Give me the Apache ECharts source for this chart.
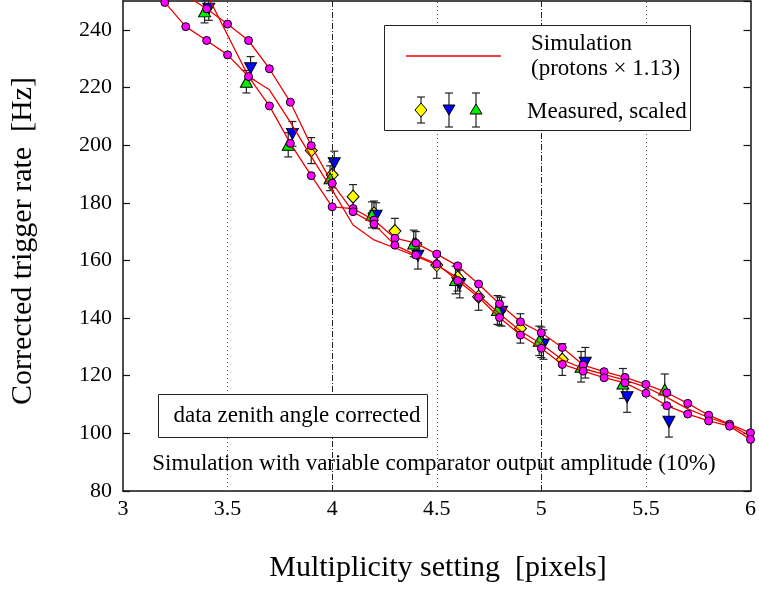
<!DOCTYPE html>
<html>
<head>
<meta charset="utf-8">
<script src="https://cdn.jsdelivr.net/npm/echarts@6/dist/echarts.min.js"></script>
<style>html,body{margin:0;padding:0;background:#fff}#c{width:759px;height:592px}</style>
</head>
<body>
<div id="c"></div>
<script>
// ---------------- data ----------------
const xTicks = [3, 3.5, 4, 4.5, 5, 5.5, 6];
const dottedGrid = [3.5, 4.5, 5.5];
const dashDotGrid = [4, 5];

// measured, scaled (yellow diamonds)
const yelX = [3.9, 4.0, 4.1, 4.2, 4.3, 4.4, 4.5, 4.6, 4.7, 4.8, 4.9, 5.0, 5.1];
const yelY = [198.1, 189.7, 182.1, 176.3, 170.2, 165.5, 158.4, 154.1, 147.4, 142.4, 136.4, 131.6, 125.6];
const yelE = [4.5, 4.5, 4.2, 4.3, 4.4, 4.5, 4.6, 4.7, 4.7, 4.9, 5.1, 5.3, 5.5];

// measured, scaled (blue down-triangles)
const bluX = [3.41, 3.61, 3.81, 4.01, 4.21, 4.41, 4.61, 4.81, 5.01, 5.21, 5.41, 5.61];
const bluY = [247.3, 226.7, 203.9, 193.7, 175.5, 161.6, 151.8, 142.2, 130.8, 124.5, 112.5, 104.0];
const bluE = [4.0, 4.0, 4.3, 4.2, 4.5, 4.6, 4.8, 5.0, 5.1, 5.3, 5.2, 5.3];

// measured, scaled (green up-triangles)
const grnX = [3.39, 3.59, 3.79, 3.99, 4.19, 4.39, 4.59, 4.79, 4.99, 5.19, 5.39, 5.59];
const grnY = [246.4, 222.0, 200.1, 188.5, 175.8, 165.9, 153.2, 142.8, 132.1, 123.1, 117.3, 115.2];
const grnE = [4.0, 3.9, 4.2, 4.3, 4.5, 4.6, 4.8, 5.0, 5.1, 5.3, 5.2, 5.4];

// simulation with variable comparator output amplitude (dots)
const simAX = [3.2, 3.3, 3.4, 3.5, 3.6, 3.7, 3.8, 3.9, 4.0, 4.1, 4.2, 4.3, 4.4, 4.5, 4.6, 4.7, 4.8, 4.9, 5.0, 5.1, 5.2, 5.3, 5.4, 5.5, 5.6, 5.7, 5.8, 5.9, 6.0];
const simAY = [249.5, 241.1, 236.3, 231.3, 223.8, 213.6, 200.6, 189.4, 178.6, 178.0, 174.0, 167.7, 166.0, 162.2, 158.1, 151.8, 144.9, 138.7, 134.9, 129.8, 123.7, 121.4, 119.4, 117.0, 114.1, 110.4, 106.3, 103.2, 100.2];
const simBX = [3.3, 3.4, 3.5, 3.6, 3.7, 3.8, 3.9, 4.0, 4.1, 4.2, 4.3, 4.4, 4.5, 4.6, 4.7, 4.8, 4.9, 5.0, 5.1, 5.2, 5.3, 5.4, 5.5, 5.6, 5.7, 5.8, 5.9, 6.0];
const simBY = [252.0, 247.3, 242.0, 236.3, 226.5, 214.9, 199.8, 186.8, 176.9, 172.6, 165.3, 161.9, 158.75, 153.0, 147.2, 140.2, 134.1, 129.5, 123.9, 121.6, 119.3, 117.5, 113.9, 109.6, 106.7, 104.3, 102.5, 97.9];
// simulation (protons x 1.13), line only
const simCX = [3.4, 3.6, 3.7, 3.8, 3.9, 4.0, 4.1, 4.2, 4.3, 4.4, 4.5, 4.6, 4.7, 4.8, 4.9, 5.0, 5.1, 5.2, 5.3, 5.4, 5.5, 5.6, 5.7, 5.8, 5.9, 6.0];
const simCY = [252.5, 223.8, 219.2, 208.0, 196.0, 184.5, 172.3, 167.1, 164.3, 161.5, 158.4, 154.0, 148.0, 141.5, 135.5, 131.0, 125.5, 122.5, 120.5, 118.5, 116.0, 112.5, 108.5, 105.5, 103.0, 99.0];

// ---------------- helpers ----------------
const zip = (xs, ys) => xs.map((x, i) => [x, ys[i]]);
const zip3 = (xs, ys, es) => xs.map((x, i) => [x, ys[i], es[i]]);
const FAM = '"Liberation Serif", "Times New Roman", serif';
const FONT = '"Liberation Serif", serif';

function errSeries(xs, ys, es) {
  return {
    type: 'custom',
    data: zip3(xs, ys, es),
    z: 3,
    renderItem: function (params, api) {
      const x = api.value(0), y = api.value(1), e = api.value(2);
      const hi = api.coord([x, y + e]);
      const lo = api.coord([x, y - e]);
      const cap = 4;
      const st = { stroke: '#222', lineWidth: 1.2 };
      return {
        type: 'group',
        children: [
          { type: 'line', shape: { x1: hi[0], y1: hi[1], x2: lo[0], y2: lo[1] }, style: st },
          { type: 'line', shape: { x1: hi[0] - cap, y1: hi[1], x2: hi[0] + cap, y2: hi[1] }, style: st },
          { type: 'line', shape: { x1: lo[0] - cap, y1: lo[1], x2: lo[0] + cap, y2: lo[1] }, style: st }
        ]
      };
    }
  };
}

function markerSeries(xs, ys, symbol, size, color, rotate) {
  return {
    type: 'scatter',
    data: zip(xs, ys),
    symbol: symbol,
    symbolSize: size,
    symbolRotate: rotate || 0,
    z: 4,
    itemStyle: { color: color, borderColor: '#000', borderWidth: 1, opacity: 1 }
  };
}

function simSeries(xs, ys, dots) {
  return {
    type: 'line',
    data: zip(xs, ys),
    z: 5,
    clip: true,
    showSymbol: dots,
    symbol: 'circle',
    symbolSize: 8,
    itemStyle: { color: '#ff00ff', borderColor: '#000', borderWidth: 1 },
    lineStyle: { color: '#ee0000', width: 1.3 },
    emphasis: { disabled: true },
    animation: false
  };
}

const gridLines = dottedGrid.map(v => ({ xAxis: v, lineStyle: { type: [1, 3], color: '#555', width: 1 } }))
  .concat(dashDotGrid.map(v => ({ xAxis: v, lineStyle: { type: [6, 2, 1, 2], color: '#222', width: 1 } })));

const axisLine = { show: true, onZero: false, lineStyle: { color: '#111', width: 1.5 } };
const tickLabel = { color: '#000', fontFamily: FAM, fontSize: 22, fontWeight: 'normal' };

// legend icon builder (graphic, not data marks)
function legendIcon(cx, top, bottom, poly, color) {
  const st = { stroke: '#222', lineWidth: 1.2 };
  return [
    { type: 'line', z: 12, shape: { x1: cx, y1: top, x2: cx, y2: bottom }, style: st },
    { type: 'line', z: 12, shape: { x1: cx - 4, y1: top, x2: cx + 4, y2: top }, style: st },
    { type: 'line', z: 12, shape: { x1: cx - 4, y1: bottom, x2: cx + 4, y2: bottom }, style: st },
    { type: 'polygon', z: 13, shape: { points: poly }, style: { fill: color, stroke: '#000', lineWidth: 1 } }
  ];
}

const chart = echarts.init(document.getElementById('c'), null, { renderer: 'canvas' });
chart.setOption({
  animation: false,
  backgroundColor: '#fff',
  textStyle: { fontFamily: FAM, fontSize: 22, color: '#000' },
  grid: { left: 123, right: 6, top: 1, bottom: 101, containLabel: false },
  xAxis: [
    {
      type: 'value', min: 3, max: 6, interval: 0.5, position: 'bottom',
      axisLine: axisLine, axisTick: { show: false }, splitLine: { show: false },
      axisLabel: Object.assign({}, tickLabel, { margin: 7, lineHeight: 22,
        formatter: v => (xTicks.indexOf(v) >= 0 ? String(v) : '') })
    },
    {
      type: 'value', min: 3, max: 6, interval: 0.5, position: 'top',
      axisLine: axisLine, axisTick: { show: false }, splitLine: { show: false }, axisLabel: { show: false }
    }
  ],
  yAxis: [
    {
      type: 'value', min: 80, max: 250, interval: 20, position: 'left',
      axisLine: axisLine,
      axisTick: { show: true, inside: true, length: 7, lineStyle: { color: '#111', width: 1.2 } },
      splitLine: { show: false },
      axisLabel: Object.assign({}, tickLabel, { margin: 11, showMaxLabel: false })
    },
    {
      type: 'value', min: 80, max: 250, interval: 20, position: 'right',
      axisLine: axisLine,
      axisTick: { show: true, inside: true, length: 7, lineStyle: { color: '#111', width: 1.2 } },
      splitLine: { show: false }, axisLabel: { show: false }
    }
  ],
  series: [
    {
      type: 'line', data: [], z: 1, silent: true,
      markLine: { silent: true, symbol: ['none', 'none'], label: { show: false }, data: gridLines, animation: false }
    },
    errSeries(yelX, yelY, yelE),
    errSeries(bluX, bluY, bluE),
    errSeries(grnX, grnY, grnE),
    markerSeries(yelX, yelY, 'diamond', [12, 13], '#ffff00'),
    markerSeries(bluX, bluY, 'triangle', [12, 11], '#0000ff', 180),
    markerSeries(grnX, grnY, 'triangle', [12, 11], '#00ee00'),
    simSeries(simCX, simCY, false),
    simSeries(simAX, simAY, true),
    simSeries(simBX, simBY, true)
  ],
  graphic: [
    // axis titles
    { type: 'text', x: 23, y: 241, rotation: Math.PI / 2,
      style: { text: 'Corrected trigger rate  [Hz]', font: '30px ' + FONT, fill: '#000', align: 'center', verticalAlign: 'middle' } },
    { type: 'text', x: 438, y: 568,
      style: { text: 'Multiplicity setting  [pixels]', font: '30px ' + FONT, fill: '#000', align: 'center', verticalAlign: 'middle' } },
    // annotation box
    { type: 'rect', shape: { x: 158.5, y: 394.5, width: 269, height: 43 }, style: { fill: '#fff', stroke: '#222', lineWidth: 1 }, z: 10 },
    { type: 'text', x: 297, y: 415.5, z: 11,
      style: { text: 'data zenith angle corrected', font: '23px ' + FONT, fill: '#000', align: 'center', verticalAlign: 'middle' } },
    { type: 'text', x: 434, y: 464, z: 11,
      style: { text: 'Simulation with variable comparator output amplitude (10%)', font: '23px ' + FONT, fill: '#000', align: 'center', verticalAlign: 'middle' } },
    // legend box
    { type: 'rect', shape: { x: 384.5, y: 25.5, width: 306, height: 105 }, style: { fill: '#fff', stroke: '#222', lineWidth: 1 }, z: 10 },
    { type: 'line', shape: { x1: 406, y1: 56, x2: 501, y2: 56 }, style: { stroke: '#ee0000', lineWidth: 1.3 }, z: 11 },
    { type: 'text', x: 531, y: 44, z: 11, style: { text: 'Simulation', font: '23px ' + FONT, fill: '#000', align: 'left', verticalAlign: 'middle' } },
    { type: 'text', x: 531, y: 69, z: 11, style: { text: '(protons \u00d7 1.13)', font: '23px ' + FONT, fill: '#000', align: 'left', verticalAlign: 'middle' } },
    { type: 'text', x: 527, y: 112, z: 11, style: { text: 'Measured, scaled', font: '23px ' + FONT, fill: '#000', align: 'left', verticalAlign: 'middle' } }
  ]
    .concat(legendIcon(421, 97, 123, [[421, 103], [427, 110], [421, 117], [415, 110]], '#ffff00'))
    .concat(legendIcon(449, 93, 127, [[443, 105], [455, 105], [449, 115]], '#0000ff'))
    .concat(legendIcon(476, 93, 127, [[476, 104], [482, 114], [470, 114]], '#00ee00'))
});
</script>
</body>
</html>
